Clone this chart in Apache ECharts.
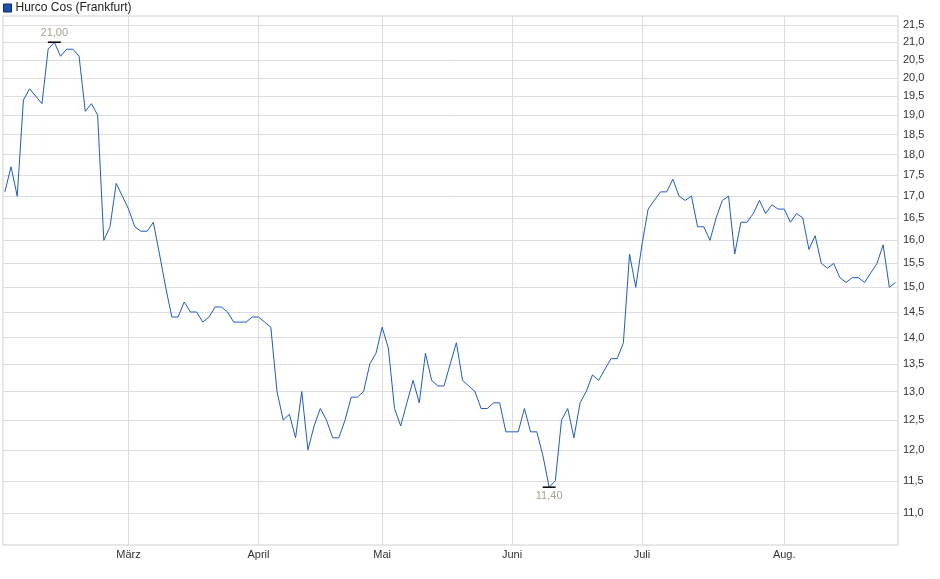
<!DOCTYPE html>
<html>
<head>
<meta charset="utf-8">
<script src="https://cdn.jsdelivr.net/npm/echarts@6/dist/echarts.min.js"></script>
<style>
  html, body { margin: 0; padding: 0; background: #fff; }
  #chart { width: 940px; height: 579px; }
</style>
</head>
<body>
<div id="chart"></div>
<script>
// Series name
const seriesName = 'Hurco Cos (Frankfurt)';

// Trading days (2025), per month
const tradingDaysFeb = [3,4,5,6,7,10,11,12,13,14,17,18,19,20,21,24,25,26,27,28];
const tradingDaysMar = [3,4,5,6,7,10,11,12,13,14,17,18,19,20,21,24,25,26,27,28,31];
const tradingDaysApr = [1,2,3,4,7,8,9,10,11,14,15,16,17,22,23,24,25,28,29,30];
const tradingDaysMay = [2,5,6,7,8,9,12,13,14,15,16,19,20,21,22,23,26,27,28,29,30];
const tradingDaysJun = [2,3,4,5,6,9,10,11,12,13,16,17,18,19,20,23,24,25,26,27,30];
const tradingDaysJul = [1,2,3,4,7,8,9,10,11,14,15,16,17,18,21,22,23,24,25,28,29,30,31];
const tradingDaysAug = [1,4,5,6,7,8,11,12,13,14,15,18,19,20,21,22,25,26,27];

// Closing prices (EUR), per month
const pricesFeb = [17.1,17.7,17.0,19.4,19.7,19.5,19.3,20.8,21.0,20.6,20.8,20.8,20.6,19.1,19.3,19.0,16.0,16.3,17.3,17.0];
const pricesMar = [16.7,16.3,16.2,16.2,16.4,15.7,15.0,14.4,14.4,14.7,14.5,14.5,14.3,14.4,14.6,14.6,14.5,14.3,14.3,14.3,14.4];
const pricesApr = [14.4,14.3,14.2,13.0,12.5,12.6,12.2,13.0,12.0,12.4,12.7,12.5,12.2,12.2,12.5,12.9,12.9,13.0,13.5,13.7];
const pricesMay = [14.2,13.8,12.7,12.4,12.8,13.2,12.8,13.7,13.2,13.1,13.1,13.5,13.9,13.2,13.1,13.0,12.7,12.7,12.8,12.8,12.3];
const pricesJun = [12.3,12.3,12.7,12.3,12.3,11.9,11.4,11.5,12.5,12.7,12.2,12.8,13.0,13.3,13.2,13.4,13.6,13.6,13.9,15.7,15.0];
const pricesJul = [15.9,16.7,16.9,17.1,17.1,17.4,17.0,16.9,17.0,16.3,16.3,16.0,16.5,16.9,17.0,15.7,16.4,16.4,16.6,16.9,16.6,16.8,16.7];
const pricesAug = [16.7,16.4,16.6,16.5,15.8,16.1,15.5,15.4,15.5,15.2,15.1,15.2,15.2,15.1,15.3,15.5,15.9,15.0,15.1];

// Month tick labels (German)
const monthLabels = ['Feb.', 'März', 'April', 'Mai', 'Juni', 'Juli', 'Aug.'];
// Y-axis tick values
const yTicks = [11.0,11.5,12.0,12.5,13.0,13.5,14.0,14.5,15.0,15.5,16.0,16.5,17.0,17.5,18.0,18.5,19.0,19.5,20.0,20.5,21.0,21.5];

// ---- build table ----
const monthDays = [tradingDaysFeb, tradingDaysMar, tradingDaysApr, tradingDaysMay, tradingDaysJun, tradingDaysJul, tradingDaysAug];
const monthPrices = [pricesFeb, pricesMar, pricesApr, pricesMay, pricesJun, pricesJul, pricesAug];
const dates = [];
const values = [];
const monthStartIdx = [];
const monthStartLabel = {};
monthDays.forEach((days, m) => {
  if (m > 0) { monthStartIdx.push(dates.length); monthStartLabel[dates.length] = monthLabels[m]; }
  days.forEach((d, k) => {
    dates.push('2025-' + String(m + 2).padStart(2, '0') + '-' + String(d).padStart(2, '0'));
    values.push(monthPrices[m][k]);
  });
});
const seriesData = values.map((v, i) => [i, v]);

const fmt = (v, d) => v.toFixed(d).replace('.', ',');
const FONT = '"Liberation Sans", Arial, sans-serif';

const chart = echarts.init(document.getElementById('chart'), null, { renderer: 'canvas' });
chart.setOption({
  animation: false,
  backgroundColor: '#ffffff',
  textStyle: { fontFamily: FONT },
  legend: {
    show: true,
    left: 3,
    top: 2,
    padding: 0,
    itemWidth: 8,
    itemHeight: 8,
    itemGap: 4,
    icon: 'rect',
    itemStyle: { color: '#1d4fb3', borderColor: '#0b2a6e', borderWidth: 1 },
    textStyle: { fontFamily: FONT, fontSize: 12, color: '#222', padding: [0, 0, 0, -1] },
    data: [seriesName]
  },
  grid: {
    left: 3,
    right: 42,
    top: 16,
    bottom: 34,
    show: true,
    borderColor: '#cfcfcf',
    borderWidth: 1,
    containLabel: false
  },
  xAxis: {
    type: 'value',
    min: -0.3,
    max: values.length - 0.6,
    axisLine: { show: false },
    axisTick: { show: false, customValues: monthStartIdx },
    axisLabel: {
      customValues: monthStartIdx,
      formatter: v => monthStartLabel[v] || '',
      fontFamily: FONT,
      fontSize: 11,
      color: '#333',
      margin: 4
    },
    splitLine: { show: true, lineStyle: { color: '#dddddd', width: 1 } }
  },
  yAxis: {
    type: 'log',
    logBase: 10,
    position: 'right',
    min: 10.53,
    max: 21.77,
    axisLine: { show: false },
    axisTick: { show: false, customValues: yTicks },
    axisLabel: {
      customValues: yTicks,
      formatter: v => fmt(v, 1),
      fontFamily: FONT,
      fontSize: 11,
      color: '#333',
      margin: 5
    },
    splitLine: { show: true, lineStyle: { color: '#dddddd', width: 1 } }
  },
  series: [{
    name: seriesName,
    type: 'line',
    data: seriesData,
    showSymbol: false,
    symbol: 'none',
    lineStyle: { color: '#1d5cc9', width: 1 },
    itemStyle: { color: '#1d4fb3' },
    markPoint: {
      symbol: 'rect',
      symbolSize: [13, 1.5],
      itemStyle: { color: '#000' },
      data: [
        { type: 'max', valueDim: 'y', label: { position: 'top', distance: 3 } },
        { type: 'min', valueDim: 'y', label: { position: 'bottom', distance: 3 } }
      ],
      label: {
        show: true,
        fontFamily: FONT,
        fontSize: 11,
        color: '#ab9f8a',
        formatter: p => fmt(Array.isArray(p.value) ? p.value[1] : p.value, 2)
      }
    }
  }]
});
</script>
</body>
</html>
